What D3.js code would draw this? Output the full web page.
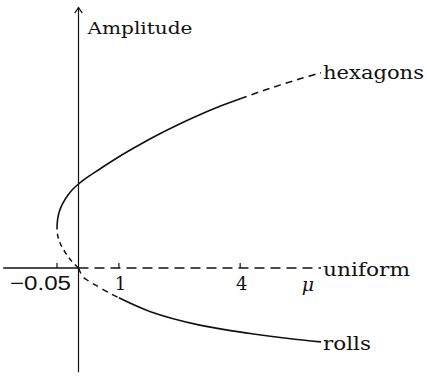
<!DOCTYPE html>
<html>
<head>
<meta charset="utf-8">
<script src="https://cdn.jsdelivr.net/npm/d3@7"></script>
<style>
  html, body { margin: 0; padding: 0; background: #fff; }
  svg { display: block; }
  text { fill: #111; }
</style>
</head>
<body>
<svg id="chart" width="427" height="379"></svg>
<script>
// Bifurcation diagram: amplitude of hexagons, rolls and the uniform state vs. mu.
// Each branch is a list of [mu, amplitude] points; stable parts solid, unstable dashed.

const muTicks = [-0.05, 1, 4];
const muTickLabels = ["\u22120.05", "1", "4"];
const muRange = [-0.175, 6];          // extent of the mu axis
const ampRange = [-1.24, 3.1];        // extent of the amplitude axis

// hexagons: unstable lower branch from the origin up to the turning point
const hexUnstableLow = [
  [0, 0], [-0.0163, 0.083], [-0.0314, 0.19], [-0.0419, 0.286], [-0.0477, 0.369], [-0.05, 0.464]
];
// hexagons: stable branch from the turning point to mu = 4
const hexStable = [
  [-0.05, 0.464], [-0.0488, 0.571], [-0.0442, 0.679], [-0.036, 0.774], [-0.0244, 0.869],
  [-0.0128, 0.94], [0, 1.0], [0.25, 1.09], [0.5, 1.17], [1, 1.325], [1.5, 1.465],
  [2, 1.595], [2.5, 1.715], [3, 1.825], [3.5, 1.925], [4, 2.015]
];
// hexagons: unstable beyond mu = 4
const hexUnstableHigh = [
  [4, 2.015], [4.5, 2.1], [5, 2.18], [5.5, 2.255], [6, 2.325]
];
// rolls: unstable for mu < 1, stable beyond
const rollsUnstable = [
  [0, 0], [0.1, -0.1], [0.2, -0.14], [0.41, -0.2], [0.79, -0.305], [1, -0.355]
];
const rollsStable = [
  [1, -0.355], [1.78, -0.52], [3, -0.68], [4.25, -0.78], [5.2, -0.84], [6, -0.88]
];
// uniform state: stable for mu < 0, unstable for mu > 0
const uniformStable = [[muRange[0], 0], [0, 0]];
const uniformUnstable = [[0, 0], [muRange[1], 0]];

const branchLabels = [
  { text: "hexagons", at: [6, 2.325], len: 101, dy: 6 },
  { text: "uniform", at: [6, 0], len: 87, dy: 8 },
  { text: "rolls", at: [6, -0.88], len: 48, dy: 8 }
];

const svg = d3.select("#chart");

// the negative side of mu is stretched so the turning point is visible
const x = d3.scaleLinear().domain([-0.05, 0, 6]).range([57, 78.5, 321]);
const y = d3.scaleLinear().domain([0, 1]).range([268, 184]);

const ink = "#111";
const line = d3.line().x(d => x(d[0])).y(d => y(d[1])).curve(d3.curveCatmullRom.alpha(0.5));

function draw(data, dash, width) {
  svg.append("path")
    .attr("d", line(data))
    .attr("fill", "none")
    .attr("stroke", ink)
    .attr("stroke-width", width)
    .attr("stroke-linecap", "butt")
    .attr("stroke-dasharray", dash);
}

// uniform state on the mu axis
draw(uniformStable, null, 1.3);
draw(uniformUnstable, "10,6", 1.3);

// amplitude axis with arrow
const x0 = x(0);
const axisTop = y(ampRange[1]);
svg.append("line")
  .attr("x1", x0).attr("x2", x0)
  .attr("y1", axisTop).attr("y2", y(ampRange[0]))
  .attr("stroke", ink).attr("stroke-width", 1.2);
const arrow = d3.path();
arrow.moveTo(x0 - 3.8, axisTop + 5.5);
arrow.lineTo(x0, axisTop);
arrow.lineTo(x0 + 3.8, axisTop + 5.5);
svg.append("path")
  .attr("d", arrow.toString())
  .attr("fill", "none").attr("stroke", ink).attr("stroke-width", 1.2);

svg.append("text")
  .attr("x", x0 + 9).attr("y", 34)
  .attr("font-family", "DejaVu Serif").attr("font-size", 17)
  .attr("textLength", 105).attr("lengthAdjust", "spacingAndGlyphs")
  .text("Amplitude");

// ticks on the mu axis
svg.selectAll("line.tick").data(muTicks).enter().append("line")
  .attr("class", "tick")
  .attr("x1", d => x(d)).attr("x2", d => x(d))
  .attr("y1", y(0)).attr("y2", y(0) - 5)
  .attr("stroke", ink).attr("stroke-width", 1.2);

svg.selectAll("text.ticklabel").data(muTicks).enter().append("text")
  .attr("class", "ticklabel")
  .attr("x", (d, i) => i === 0 ? x0 - 7.5 : x(d) + 1.5)
  .attr("y", 290)
  .attr("text-anchor", (d, i) => i === 0 ? "end" : "middle")
  .attr("font-family", (d, i) => i === 0 ? "Liberation Sans" : "DejaVu Serif")
  .attr("font-size", (d, i) => i === 0 ? 20 : 18)
  .attr("textLength", (d, i) => i === 0 ? 61 : null)
  .attr("lengthAdjust", "spacingAndGlyphs")
  .text((d, i) => muTickLabels[i]);

svg.append("text")
  .attr("x", 308).attr("y", 291)
  .attr("text-anchor", "middle")
  .attr("font-family", "DejaVu Serif").attr("font-style", "italic").attr("font-size", 19)
  .text("\u03bc");

// hexagon and roll branches
draw(hexUnstableLow, "5,4", 1.5);
draw(hexStable, null, 1.6);
draw(hexUnstableHigh, "7,5", 1.5);
draw(rollsUnstable, "6,5", 1.5);
draw(rollsStable, null, 1.6);

// branch names at the right ends
svg.selectAll("text.branch").data(branchLabels).enter().append("text")
  .attr("class", "branch")
  .attr("x", d => x(d.at[0]) + 2)
  .attr("y", d => y(d.at[1]) + d.dy)
  .attr("font-family", "DejaVu Serif").attr("font-size", 19)
  .attr("textLength", d => d.len).attr("lengthAdjust", "spacingAndGlyphs")
  .text(d => d.text);
</script>
</body>
</html>
